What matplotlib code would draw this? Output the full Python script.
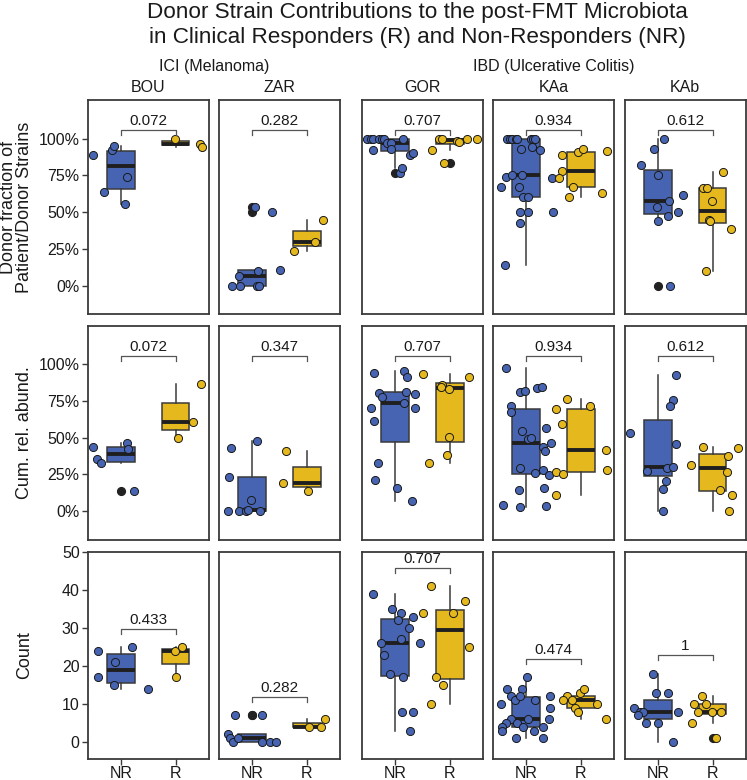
import matplotlib
matplotlib.use("Agg")
import matplotlib.pyplot as plt
from matplotlib.ticker import FixedLocator, FuncFormatter

plt.rcParams['font.family'] = ['Liberation Sans', 'DejaVu Sans']

# ---- data (*_jit = horizontal jitter of each point) ----
studies = ['BOU', 'ZAR', 'GOR', 'KAa', 'KAb']
groups = ['NR', 'R']
row_labels = ['Donor fraction of\nPatient/Donor Strains', 'Cum. rel. abund.', 'Count']

# row 1: donor fraction of patient/donor strains
frac_bou_nr = [0.891, 0.634, 0.920, 0.952, 0.736, 0.555]
frac_bou_nr_jit = [-0.50, -0.31, -0.17, -0.13, 0.12, 0.08]
frac_bou_r = [1.0, 0.964, 0.943]
frac_bou_r_jit = [-0.01, 0.44, 0.49]
frac_zar_nr = [0, 0.064, 0, 0.534, 0.1, 0, 0, 0.498, 0.109]
frac_zar_nr_jit = [-0.36, -0.24, -0.22, 0.06, 0.11, 0.08, 0.13, 0.37, 0.50]
frac_zar_r = [0.236, 0.298, 0.445]
frac_zar_r_jit = [-0.24, 0.15, 0.29]
frac_gor_nr = [1, 1, 1, 1, 1, 1, 0.925, 0.970, 0.970, 0.930, 1.0, 0.891, 0.902, 0.765, 0.798]
frac_gor_nr_jit = [-0.51, -0.45, -0.40, -0.29, -0.24, -0.20, -0.41, -0.14, -0.07, -0.08,
                   0.14, 0.27, 0.32, 0.09, 0.12]
frac_gor_r = [1.0, 1.0, 0.925, 0.982, 0.977, 1.0, 1.0, 0.834]
frac_gor_r_jit = [-0.20, -0.14, -0.33, 0.12, 0.16, 0.32, 0.50, -0.10]
frac_kaa_nr = [1, 1, 1, 1, 1, 1, 1, 1, 0.943, 0.925, 0.932, 0.736, 0.75, 0.75, 0.668, 0.668,
               0.732, 0.6, 0.6, 0.498, 0.498, 0.498, 0.427, 0.141]
frac_kaa_nr_jit = [-0.35, -0.30, -0.25, -0.19, -0.17, 0.08, 0.13, 0.17, 0.11, 0.25, -0.10,
                   -0.36, -0.25, -0.08, -0.46, -0.13, 0.47, -0.05, 0.03, -0.11, 0.04, 0.49,
                   -0.11, -0.39]
frac_kaa_r = [0.886, 0.909, 0.927, 0.918, 0.777, 0.732, 0.668, 0.6, 0.632]
frac_kaa_r_jit = [-0.34, -0.05, 0.04, 0.48, -0.35, -0.40, -0.15, -0.21, 0.38]
frac_kab_nr = [1.0, 0.93, 0.818, 0.752, 0.573, 0.618, 0.532, 0.5, 0.47, 0.436, 0.0]
frac_kab_nr_jit = [0.11, -0.07, -0.31, 0.01, 0.21, 0.45, -0.01, 0.36, 0.19, 0.01, 0.23]
frac_kab_r = [0.77, 0.666, 0.666, 0.573, 0.448, 0.442, 0.386, 0.1]
frac_kab_r_jit = [0.19, -0.17, -0.11, -0.01, -0.06, -0.05, 0.34, -0.12]

# row 2: cumulative relative abundance
cum_bou_nr = [0.438, 0.354, 0.329, 0.463, 0.422, 0.138]
cum_bou_nr_jit = [-0.50, -0.43, -0.37, 0.11, 0.13, 0.24]
cum_bou_r = [0.864, 0.608, 0.497]
cum_bou_r_jit = [0.47, 0.31, 0.04]
cum_zar_nr = [0.426, 0.234, 0, 0, 0, 0.007, 0, 0.077, 0.478]
cum_zar_nr_jit = [-0.39, -0.42, -0.44, -0.24, -0.11, -0.07, 0.14, -0.03, 0.08]
cum_zar_r = [0.193, 0.408, 0.136]
cum_zar_r_jit = [-0.44, -0.38, 0.02]
cum_gor_nr = [0.941, 0.952, 0.914, 0.805, 0.778, 0.81, 0.798, 0.737, 0.703, 0.698, 0.61,
              0.329, 0.209, 0.159, 0.066]
cum_gor_nr_jit = [-0.38, 0.17, 0.22, -0.29, -0.24, 0.20, 0.37, 0.16, -0.45, 0.37, -0.39,
                  -0.31, -0.36, 0.03, 0.31]
cum_gor_r = [0.93, 0.912, 0.855, 0.841, 0.832, 0.503, 0.379, 0.324]
cum_gor_r_jit = [-0.49, 0.34, -0.15, -0.17, -0.02, -0.02, -0.05, -0.39]
cum_kaa_nr = [0.975, 0.812, 0.819, 0.834, 0.841, 0.717, 0.676, 0.544, 0.488, 0.497, 0.567,
              0.438, 0.41, 0.46, 0.293, 0.261, 0.279, 0.245, 0.143, 0.156, 0.039, 0.029, 0.036]
cum_kaa_nr_jit = [-0.36, -0.11, -0.02, 0.19, 0.28, -0.27, -0.28, -0.08, 0.04, 0.09, 0.37,
                  0.31, 0.34, 0.45, -0.11, 0.17, 0.30, 0.42, -0.13, 0.33, -0.42, -0.12, 0.37]
cum_kaa_r = [0.764, 0.717, 0.696, 0.59, 0.415, 0.279, 0.268, 0.254, 0.111]
cum_kaa_r_jit = [-0.25, 0.17, -0.45, -0.34, 0.46, 0.48, -0.45, -0.32, -0.46]
cum_kab_nr = [0.923, 0.755, 0.714, 0.531, 0.456, 0.272, 0.293, 0.297, 0.204, 0.152, 0.002]
cum_kab_nr_jit = [0.34, 0.28, 0.23, -0.50, 0.34, -0.19, 0.17, 0.27, 0.15, 0.10, 0.09]
cum_kab_r = [0.438, 0.431, 0.311, 0.376, 0.268, 0.143, 0.107, 0.002]
cum_kab_r_jit = [-0.18, 0.46, -0.40, 0.28, 0.26, 0.13, 0.35, 0.29]

# row 3: count of donor strains
cnt_bou_nr = [24, 17, 21, 15, 25, 14]
cnt_bou_nr_jit = [-0.41, -0.42, -0.10, -0.13, 0.20, 0.50]
cnt_bou_r = [24, 25, 17]
cnt_bou_r_jit = [-0.02, 0.11, 0.01]
cnt_zar_nr = [2, 1, 0, 7, 1, 7, 0, 0, 0]
cnt_zar_nr_jit = [-0.44, -0.41, -0.35, -0.32, -0.25, 0.18, 0.18, 0.33, 0.43]
cnt_zar_r = [4, 4, 6]
cnt_zar_r_jit = [0.04, 0.25, 0.33]
cnt_gor_nr = [39, 35, 34, 32, 33, 30, 27, 26, 26, 23, 18, 17, 8, 8, 3]
cnt_gor_nr_jit = [-0.40, -0.05, 0.10, 0.05, 0.33, 0.25, 0.10, -0.25, 0.45, -0.20, -0.10,
                  0.15, 0.13, 0.33, 0.27]
cnt_gor_r = [41, 37, 34, 34, 25, 17, 15, 10]
cnt_gor_r_jit = [-0.35, 0.27, -0.49, 0.05, 0.35, -0.26, -0.12, -0.34]
cnt_kaa_nr = [17, 14, 14, 12, 11, 12, 11, 12, 10, 9, 6, 6, 6, 5, 5, 4, 3, 4, 4, 3, 1, 1]
cnt_kaa_nr_jit = [0.02, -0.35, -0.08, -0.28, -0.20, -0.11, 0.17, 0.44, -0.46, 0.43, -0.28,
                  0.03, 0.42, -0.36, -0.17, -0.44, -0.45, -0.05, 0.31, 0.14, -0.19, 0.31]
cnt_kaa_r = [12, 11, 13, 14, 11, 9, 8, 10, 6]
cnt_kaa_r_jit = [-0.25, -0.33, -0.01, 0.06, -0.17, -0.11, -0.05, 0.29, 0.45]
cnt_kab_nr = [18, 13, 13, 9, 8, 8, 7, 8, 5, 5, 0]
cnt_kab_nr_jit = [-0.08, -0.03, 0.18, -0.43, -0.33, -0.28, -0.37, 0.36, -0.22, 0.00, 0.28]
cnt_kab_r = [12, 10, 10, 8, 8, 8, 5, 1]
cnt_kab_r_jit = [-0.19, -0.34, -0.12, -0.27, -0.01, 0.15, -0.37, 0.06]

pvals_frac = ['0.072', '0.282', '0.707', '0.934', '0.612']
pvals_cum = ['0.072', '0.347', '0.707', '0.934', '0.612']
pvals_cnt = ['0.433', '0.282', '0.707', '0.474', '1']

# gather per row: (NR values, NR jitter, R values, R jitter) per study
rows = [
    [(frac_bou_nr, frac_bou_nr_jit, frac_bou_r, frac_bou_r_jit),
     (frac_zar_nr, frac_zar_nr_jit, frac_zar_r, frac_zar_r_jit),
     (frac_gor_nr, frac_gor_nr_jit, frac_gor_r, frac_gor_r_jit),
     (frac_kaa_nr, frac_kaa_nr_jit, frac_kaa_r, frac_kaa_r_jit),
     (frac_kab_nr, frac_kab_nr_jit, frac_kab_r, frac_kab_r_jit)],
    [(cum_bou_nr, cum_bou_nr_jit, cum_bou_r, cum_bou_r_jit),
     (cum_zar_nr, cum_zar_nr_jit, cum_zar_r, cum_zar_r_jit),
     (cum_gor_nr, cum_gor_nr_jit, cum_gor_r, cum_gor_r_jit),
     (cum_kaa_nr, cum_kaa_nr_jit, cum_kaa_r, cum_kaa_r_jit),
     (cum_kab_nr, cum_kab_nr_jit, cum_kab_r, cum_kab_r_jit)],
    [(cnt_bou_nr, cnt_bou_nr_jit, cnt_bou_r, cnt_bou_r_jit),
     (cnt_zar_nr, cnt_zar_nr_jit, cnt_zar_r, cnt_zar_r_jit),
     (cnt_gor_nr, cnt_gor_nr_jit, cnt_gor_r, cnt_gor_r_jit),
     (cnt_kaa_nr, cnt_kaa_nr_jit, cnt_kaa_r, cnt_kaa_r_jit),
     (cnt_kab_nr, cnt_kab_nr_jit, cnt_kab_r, cnt_kab_r_jit)],
]
pvals = [pvals_frac, pvals_cum, pvals_cnt]

# ---- styling / layout ----
W, H = 747, 780
blue = '#4664B2'
yellow = '#E5B81E'
edge = '#3a3a3a'

col_left = [88, 219.3, 362.3, 493.3, 625]
col_w = 120.5
row_top = [100, 326, 551.7]
row_h = [214.3, 214, 207.3]
ylims = [(-0.195, 1.262), (-0.197, 1.259), (-4.47, 50.1)]

fig = plt.figure(figsize=(W / 100, H / 100), dpi=100)

for r in range(3):
    for c in range(5):
        ax = fig.add_axes([col_left[c] / W, 1 - (row_top[r] + row_h[r]) / H,
                           col_w / W, row_h[r] / H])
        nr, nr_j, rr, rr_j = rows[r][c]
        bp = ax.boxplot([nr, rr], positions=[1, 2], widths=0.5, patch_artist=True,
                        showcaps=False, whis=1.5,
                        boxprops=dict(edgecolor=edge, linewidth=1.1),
                        whiskerprops=dict(color=edge, linewidth=1.1),
                        medianprops=dict(color='#1f1f1f', linewidth=2.8, solid_capstyle='butt'),
                        flierprops=dict(marker='o', markerfacecolor='#222222',
                                        markeredgecolor='#222222', markersize=5.6))
        for patch, col in zip(bp['boxes'], [blue, yellow]):
            patch.set_facecolor(col)
            patch.set_zorder(2)
        for g, (vals, jit, col) in enumerate([(nr, nr_j, blue), (rr, rr_j, yellow)]):
            xs = [g + 1 + j for j in jit]
            ax.scatter(xs, vals, s=34, facecolor=col, edgecolor='#1a1a1a',
                       linewidth=0.7, zorder=4)

        lo, hi = ylims[r]
        ax.set_xlim(0.4, 2.6)
        ax.set_ylim(lo, hi)

        # significance bracket
        if r < 2:
            yb = 1.055
        else:
            yb = max(nr + rr) + 4.8
        tick = 0.0235 * (hi - lo)
        ax.plot([1, 1, 2, 2], [yb - tick, yb, yb, yb - tick], color='#555555',
                linewidth=0.9, zorder=5)
        ax.annotate(pvals[r][c], xy=(1.5, yb), xytext=(0, 1.5), textcoords='offset points',
                    ha='center', va='bottom', fontsize=11, color='#1a1a1a')

        for s in ax.spines.values():
            s.set_color(edge)
            s.set_linewidth(1.3)

        if c == 0:
            if r < 2:
                ax.yaxis.set_major_locator(FixedLocator([0, 0.25, 0.5, 0.75, 1.0]))
                ax.yaxis.set_major_formatter(FuncFormatter(lambda v, p: f'{v * 100:.0f}%'))
            else:
                ax.yaxis.set_major_locator(FixedLocator([0, 10, 20, 30, 40, 50]))
            ax.tick_params(axis='y', length=4, width=1, color=edge, labelsize=11.5,
                           labelcolor='#1a1a1a', pad=2)
        else:
            ax.tick_params(axis='y', left=False, labelleft=False)

        if r == 2:
            ax.set_xticks([1, 2])
            ax.set_xticklabels(groups)
            ax.tick_params(axis='x', length=4, width=1, color=edge, labelsize=11.5,
                           labelcolor='#1a1a1a', pad=1)
        else:
            ax.tick_params(axis='x', bottom=False, labelbottom=False)

# row titles (y-axis labels)
for r in range(3):
    yc = 1 - (row_top[r] + row_h[r] / 2) / H
    fig.text(33 / W, yc, row_labels[r], rotation=90, ha='right', va='center',
             multialignment='center', fontsize=13, color='#1a1a1a', linespacing=0.95)

# study strips
for c in range(5):
    fig.text((col_left[c] + col_w / 2) / W, 1 - 87 / H, studies[c], ha='center',
             va='center', fontsize=11.5, color='#1a1a1a')
fig.text((col_left[0] + col_left[1] + col_w) / 2 / W, 1 - 67 / H, 'ICI (Melanoma)',
         ha='center', va='center', fontsize=11.5, color='#1a1a1a')
fig.text((col_left[2] + col_left[4] + col_w) / 2 / W, 1 - 67 / H, 'IBD (Ulcerative Colitis)',
         ha='center', va='center', fontsize=11.5, color='#1a1a1a')

fig.text(417 / W, 1 - 2 / H,
         'Donor Strain Contributions to the post-FMT Microbiota\n'
         'in Clinical Responders (R) and Non-Responders (NR)',
         ha='center', va='top', fontsize=16.2, color='#1a1a1a', linespacing=1.25)

fig.savefig('out.png', dpi=100)
